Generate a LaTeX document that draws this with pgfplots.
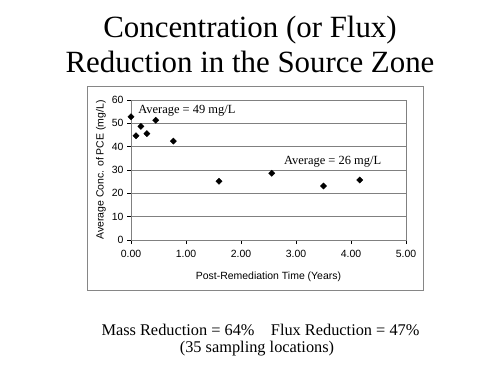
\documentclass[border=0pt]{standalone}
\usepackage{fontspec}
\setmainfont{Liberation Serif}
\newfontfamily\arial{Liberation Sans}
\usepackage{pgfplots}
\pgfplotsset{compat=1.18}
\definecolor{frame}{RGB}{134,134,134}
\definecolor{gridc}{RGB}{128,128,128}
\begin{document}
\begin{tikzpicture}[x=1bp,y=1bp]
\useasboundingbox (0,0) rectangle (500,375);
\fill[white] (0,0) rectangle (500,375);
% titles
\node[anchor=base,inner sep=0] at (250,338) {\fontsize{31}{34}\selectfont Concentration (or Flux)};
\node[anchor=base,inner sep=0] at (250,303) {\fontsize{31}{34}\selectfont Reduction in the Source Zone};
% chart frame
\draw[frame,line width=0.8bp] (87,85) rectangle (423,289);
\begin{axis}[
  at={(131bp,135bp)}, anchor=south west,
  scale only axis, width=275bp, height=140bp,
  xmin=0, xmax=5, ymin=0, ymax=60,
  xtick={0,1,2,3,4,5}, ytick={0,10,20,30,40,50,60},
  xtick pos=bottom, ytick pos=left,
  tick align=outside, major tick length=4bp,
  tick style={black, line width=0.6bp},
  axis line style={gridc, line width=0.8bp},
  ymajorgrids, grid style={gridc, line width=0.8bp},
  /pgf/number format/assume math mode=true,
  tick label style={font=\arial\fontsize{10.5}{12}\selectfont},
  x tick label style={yshift=-3bp, /pgf/number format/.cd, fixed, fixed zerofill, precision=2},
  xlabel={Post-Remediation Time (Years)},
  ylabel={Average Conc. of PCE (mg/L)},
  label style={font=\arial\fontsize{10.5}{12}\selectfont},
  xlabel style={at={(axis description cs:0.5,-0.262)}, anchor=center},
  ylabel style={at={(axis description cs:-0.109,0.5)}, anchor=center},
  clip=false,
]
\addplot[only marks, mark=square*, mark size=2.2bp, mark options={rotate=45, fill=black, draw=black}] table {
x y
0.00 52.8
0.09 44.7
0.18 48.7
0.29 45.6
0.45 51.3
0.77 42.4
1.60 25.2
2.56 28.6
3.50 23.1
4.16 25.7
};
\node[anchor=west, inner sep=0, font=\fontsize{12.5}{14}\selectfont] at (axis cs:0.13,55.3) {Average = 49 mg/L};
\node[anchor=west, inner sep=0, font=\fontsize{12.5}{14}\selectfont] at (axis cs:2.78,33.6) {Average = 26 mg/L};
\end{axis}
% bottom text
\node[anchor=base,inner sep=0] at (260.5,40) {\fontsize{16.4}{19}\selectfont Mass Reduction = 64\%\hspace{1em}Flux Reduction = 47\%};
\node[anchor=base,inner sep=0] at (257,23) {\fontsize{16.4}{19}\selectfont (35 sampling locations)};
\end{tikzpicture}
\end{document}
